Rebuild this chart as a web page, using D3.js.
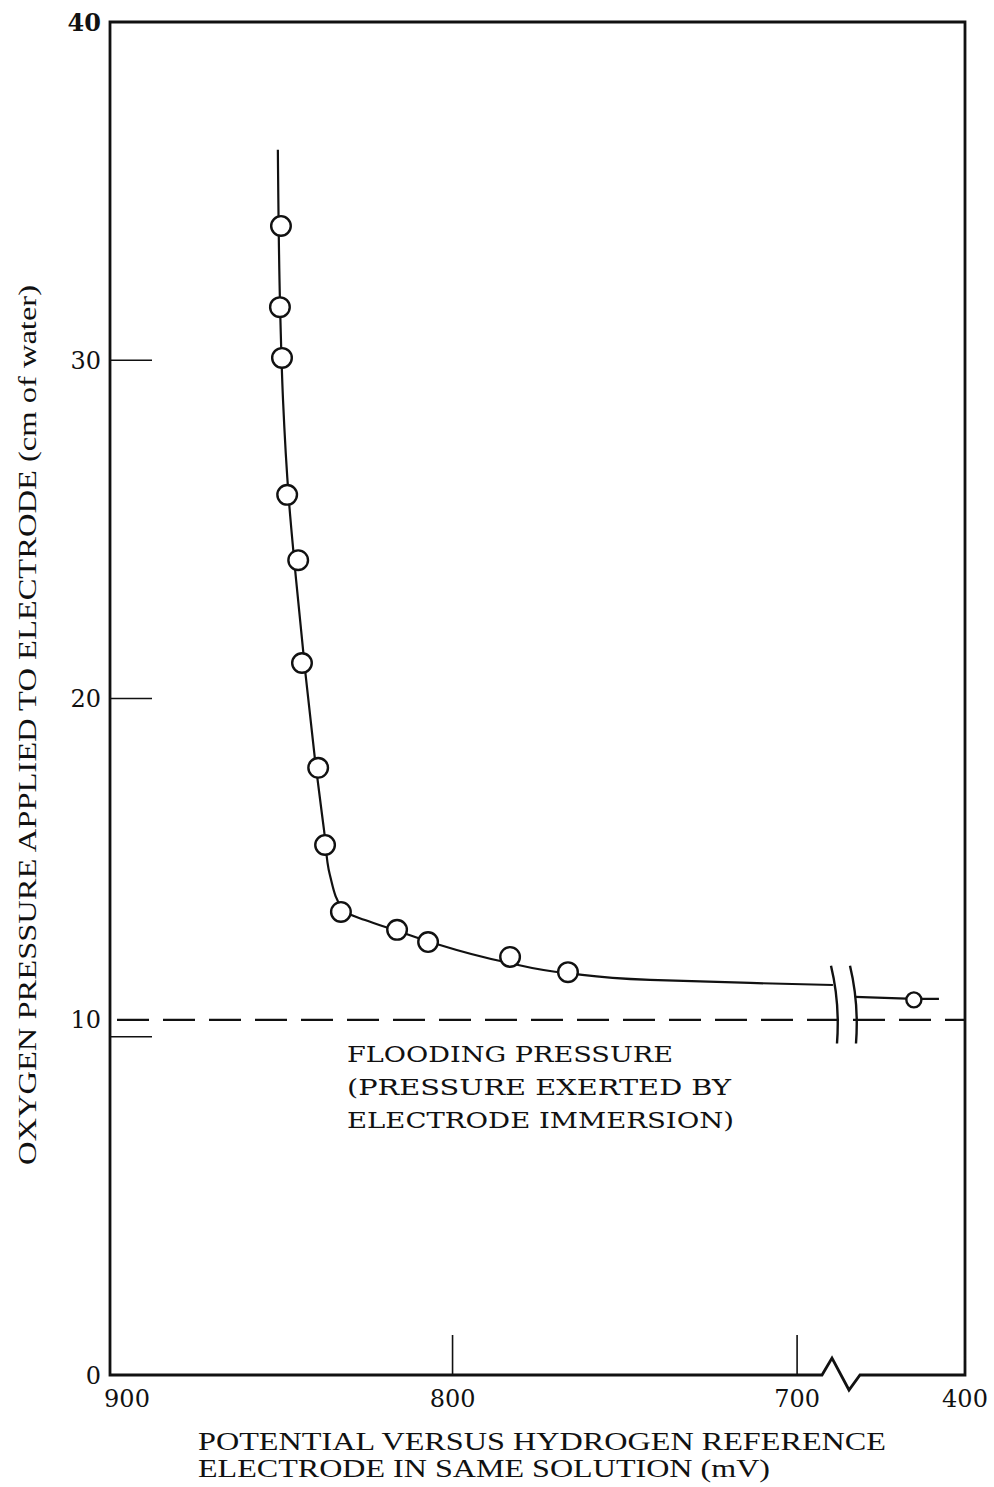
<!DOCTYPE html>
<html>
<head>
<meta charset="utf-8">
<script src="https://cdn.jsdelivr.net/npm/d3@7"></script>
<style>
  body { margin: 0; background: #fff; }
  svg { display: block; }
  text { font-family: "DejaVu Serif", "Liberation Serif", serif; fill: #111; }
</style>
</head>
<body>
<svg id="chart" width="994" height="1487"></svg>
<script>
// measured points (mV, cm of water)
var potential = [849.8, 850.1, 849.5, 848.0, 844.8, 843.7, 839.0, 837.0, 832.4, 816.1, 807.1, 783.3, 766.5, 421];
var pressure  = [33.97, 31.57, 30.07, 26.02, 24.09, 21.05, 17.95, 15.67, 13.69, 13.16, 12.80, 12.36, 11.91, 11.09];

// hand drawn curve, before and after the axis break
var fitPotential = [850.7, 850.1, 849.2, 847.5, 845.4, 842.8, 839.9, 837.3, 835.6, 831.6, 825.4, 816.1, 806.5, 784.8, 766.5, 742.7, 713.6, 689.6];
var fitPressure  = [36.22, 31.78, 28.82, 25.87, 23.50, 20.84, 18.18, 16.11, 14.78, 13.72, 13.45, 13.13, 12.80, 12.21, 11.88, 11.68, 11.59, 11.53];
var tailPotential = [445.2, 421, 410.7];
var tailPressure  = [11.18, 11.12, 11.12];

var floodingPressure = 10.5;

var xTicks = [900, 800, 700, 400];
var yTicks = [0, 10, 20, 30, 40];
var breakValues = [689, 446];

var svg = d3.select("#chart");

// x axis is broken between 689 and 446 mV
var xs = d3.scaleLinear()
  .domain([900, breakValues[0], breakValues[1], 400])
  .range([108, 835, 853, 965]);
var ys = d3.scaleLinear().domain([0, 40]).range([1375, 22]);

var plotLeft = 110, plotRight = 965, plotTop = ys(40), plotBottom = ys(0);

// flooding pressure dashed line
svg.append("line")
  .attr("x1", plotLeft + 7).attr("x2", plotRight)
  .attr("y1", ys(floodingPressure)).attr("y2", ys(floodingPressure))
  .attr("stroke", "#111").attr("stroke-width", 2.2)
  .attr("stroke-dasharray", "32,14");

// inner ticks on y
svg.selectAll(".ytick").data(yTicks.filter(function(d){ return d > 0 && d < 40; }))
  .enter().append("line")
  .attr("x1", plotLeft).attr("x2", plotLeft + 42)
  .attr("y1", function(d){ return ys(d); }).attr("y2", function(d){ return ys(d); })
  .attr("stroke", "#111").attr("stroke-width", 1.6);

// inner ticks on x
svg.selectAll(".xtick").data([800, 700])
  .enter().append("line")
  .attr("x1", function(d){ return xs(d); }).attr("x2", function(d){ return xs(d); })
  .attr("y1", plotBottom).attr("y2", plotBottom - 40)
  .attr("stroke", "#111").attr("stroke-width", 1.6);

// frame, bottom edge with zigzag break
var b0 = xs(breakValues[0]), b1 = xs(breakValues[1]);
var frame = d3.path();
frame.moveTo(b0 - 13, plotBottom);
frame.lineTo(plotLeft, plotBottom);
frame.lineTo(plotLeft, plotTop);
frame.lineTo(plotRight, plotTop);
frame.lineTo(plotRight, plotBottom);
frame.lineTo(b1 + 7, plotBottom);
frame.lineTo(b1 - 4, plotBottom + 15);
frame.lineTo(b0 - 3, plotBottom - 17);
frame.closePath();
svg.append("path").attr("d", frame.toString())
  .attr("fill", "none").attr("stroke", "#111").attr("stroke-width", 2.8)
  .attr("stroke-linejoin", "miter");

// curve
var line = d3.line()
  .x(function(d){ return xs(d[0]); })
  .y(function(d){ return ys(d[1]); })
  .curve(d3.curveMonotoneY);

svg.append("path")
  .attr("d", line(d3.zip(fitPotential, fitPressure)))
  .attr("fill", "none").attr("stroke", "#111").attr("stroke-width", 2.2);
svg.append("path")
  .attr("d", line.curve(d3.curveLinear)(d3.zip(tailPotential, tailPressure)))
  .attr("fill", "none").attr("stroke", "#111").attr("stroke-width", 2.2);

// break marks across the curve and dashed line
breakValues.forEach(function(v, i) {
  var x = xs(v) + (i === 0 ? -4 : -3);
  var p = d3.path();
  p.moveTo(x, ys(12.1));
  p.quadraticCurveTo(x + 9, ys(11.0), x + 6, ys(9.8));
  svg.append("path").attr("d", p.toString())
    .attr("fill", "none").attr("stroke", "#111").attr("stroke-width", 2.4);
});

// points
svg.selectAll("circle").data(d3.zip(potential, pressure))
  .enter().append("circle")
  .attr("cx", function(d){ return xs(d[0]); })
  .attr("cy", function(d){ return ys(d[1]); })
  .attr("r", function(d, i){ return i === potential.length - 1 ? 7.5 : 9.8; })
  .attr("fill", "#fff").attr("stroke", "#111").attr("stroke-width", 2.4);

// tick labels
svg.selectAll(".ylab").data(yTicks).enter().append("text")
  .attr("x", 101)
  .attr("y", function(d){ return d === 10 ? ys(floodingPressure) : ys(d); })
  .attr("dy", "0.36em")
  .attr("text-anchor", "end")
  .style("font-size", "24px")
  .style("font-weight", function(d){ return d === 40 ? "bold" : "normal"; })
  .text(function(d){ return d; });

svg.selectAll(".xlab").data(xTicks).enter().append("text")
  .attr("x", function(d){ return d === 900 ? xs(d) + 19 : xs(d); })
  .attr("y", 1407)
  .attr("text-anchor", "middle")
  .style("font-size", "24px")
  .text(function(d){ return d; });

// flooding annotation
var floodLines = ["FLOODING PRESSURE", "(PRESSURE EXERTED BY", "ELECTRODE IMMERSION)"];
var floodWidths = [326, 384, 387];
svg.selectAll(".flood").data(floodLines).enter().append("text")
  .attr("x", 347)
  .attr("y", function(d, i){ return 1062 + i * 33; })
  .attr("textLength", function(d, i){ return floodWidths[i]; })
  .attr("lengthAdjust", "spacingAndGlyphs")
  .style("font-size", "23px")
  .text(function(d){ return d; });

// axis titles
var xTitle = ["POTENTIAL VERSUS HYDROGEN REFERENCE", "ELECTRODE IN SAME SOLUTION (mV)"];
var xTitleWidths = [688, 572];
svg.selectAll(".xtitle").data(xTitle).enter().append("text")
  .attr("x", 198)
  .attr("y", function(d, i){ return 1450 + i * 27; })
  .attr("textLength", function(d, i){ return xTitleWidths[i]; })
  .attr("lengthAdjust", "spacingAndGlyphs")
  .style("font-family", "'Liberation Serif', serif")
  .style("font-size", "25px")
  .text(function(d){ return d; });

svg.append("text")
  .attr("transform", "translate(36,725) rotate(-90)")
  .attr("text-anchor", "middle")
  .attr("textLength", 880)
  .attr("lengthAdjust", "spacingAndGlyphs")
  .style("font-family", "'Liberation Serif', serif")
  .style("font-size", "25px")
  .text("OXYGEN PRESSURE APPLIED TO ELECTRODE (cm of water)");
</script>
</body>
</html>
